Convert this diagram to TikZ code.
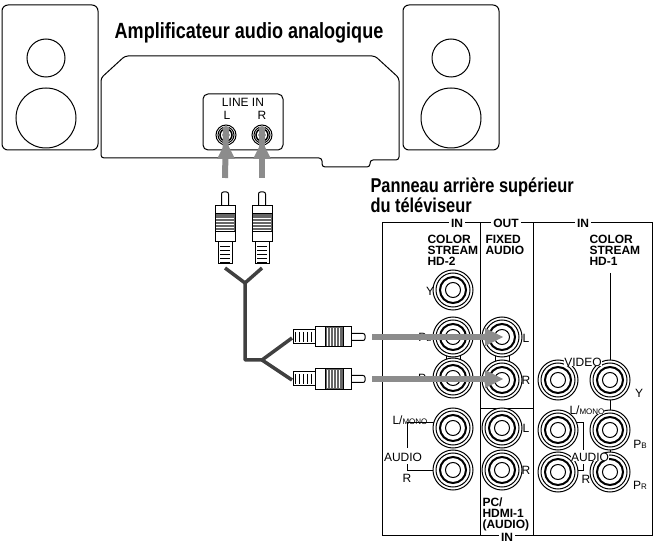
\documentclass[tikz,border=0pt]{standalone}
\usepackage{fontspec}
\setmainfont{Liberation Sans}
\newfontfamily\cond{Liberation Sans}[FakeStretch=0.82]
\begin{document}
\begin{tikzpicture}[x=1pt,y=-1pt,line width=1pt,
  lbl/.style={font=\fontsize{12}{12}\selectfont,inner sep=0pt},
  bl/.style={font=\bfseries\fontsize{12}{11}\selectfont,inner sep=0pt,align=left},
  ttl/.style={font=\cond\bfseries\fontsize{22}{21}\selectfont,inner sep=0pt,align=left},
  gshaft/.style={draw=black!45,line width=6pt},
  ghead/.style={fill=black!45},
  cable/.style={draw=black!75,line width=3.5pt},
  jack/.pic={\draw[line width=1pt,fill=white] (0,0) circle (20);
    \draw (0,0) circle (17); \draw[line width=2pt] (0,0) circle (13);
    \draw (0,0) circle (7.5);},
  sjack/.pic={\draw[fill=white] (0,0) circle (10); \draw (0,0) circle (8);
    \draw[line width=1.5pt] (0,0) circle (6); \draw (0,0) circle (3);},
  plug/.pic={\draw[fill=white,rounded corners=2pt] (-16,-3.5) rectangle (0,3.5);
    \draw[fill=white] (-22,-10) rectangle (-14,10);
    \draw[fill=black!60] (-40,-10) rectangle (-22,10);
    \foreach \i in {-38,-35,...,-24} \draw[white,line width=.5pt] (\i,-9) -- (\i,9);
    \draw[fill=white] (-50,-10) rectangle (-40,10);
    \draw[fill=white] (-72,-7) rectangle (-50,7);
    \foreach \i in {-70,-66,...,-54} \draw[line width=.8pt] (\i,-5) -- (\i,5);}]
\useasboundingbox (0,0) rectangle (654,548);
% speakers
\draw[rounded corners=6pt] (2,5) rectangle (98,150);
\draw (46,58) circle (19); \draw (46,118) circle (30);
\draw[rounded corners=6pt] (403,5) rectangle (499,150);
\draw (451,58) circle (19); \draw (451,118) circle (30);
% amplifier
\node[ttl] (amptitle) at (249,33) {Amplificateur audio analogique};
\draw[rounded corners=3pt] (101,158) -- (101,78) -- (125,56) -- (375,56) -- (399,78) -- (399,160)
  -- (370,160) -- (370,167) -- (322,167) -- (322,158) -- cycle;
\draw[rounded corners=5pt] (203,94) rectangle (283,150);
\node[lbl] (linein) at (243,102) {LINE IN};
\node[lbl] (ll) at (227,115) {L};
\node[lbl] (lr) at (262,115) {R};
\pic at (226,135) {sjack}; \coordinate (jl) at (226,141);
\pic at (262,135) {sjack}; \coordinate (jr) at (262,141);
% cables
\coordinate (y1) at (245,283); \coordinate (y2) at (245,360); \coordinate (y3) at (262,360);
\draw[cable,line join=round] (225,268) -- (y1) -- (262,268);
\draw[cable,line join=round] (y1) -- (y2) -- (y3) -- (292,338);
\draw[cable,line join=round] (y3) -- (292,380);
\pic[rotate=90] at (225,192) {plug};
\pic[rotate=90] at (262,192) {plug};
\pic at (365,337) {plug};
\pic at (365,379) {plug};
\coordinate (pl) at (225,178); \coordinate (pr) at (262,178);
\draw[gshaft] (pl) -- ([yshift=14]jl); \fill[ghead] (jl) -- ++(-9,18) -- ++(18,0) -- cycle;
\draw[gshaft] (pr) -- ([yshift=14]jr); \fill[ghead] (jr) -- ++(-9,18) -- ++(18,0) -- cycle;
% TV title
\node[ttl,anchor=west,font=\cond\bfseries\fontsize{20}{20}\selectfont] (tvtitle) at (370,195) {Panneau arrière supérieur\\du téléviseur};
% TV panel
\draw (382,223) rectangle (652,535);
\draw (480,223) -- (480,535); \draw (533,223) -- (533,535); \draw (480,408) -- (533,408);
\foreach \x/\t in {457/IN,506/OUT,583/IN} \node[bl,fill=white,inner xsep=2pt] at (\x,223) {\t};
\node[bl,fill=white,inner xsep=2pt] (inb) at (507,537) {IN};
\node[bl,anchor=north west] (hd2) at (427,235) {COLOR\\STREAM\\HD-2};
\node[bl,anchor=north west] (fixed) at (485,235) {FIXED\\AUDIO};
\node[bl,anchor=north west] (hd1) at (589,235) {COLOR\\STREAM\\HD-1};
\node[bl,anchor=north west] (pc) at (482,497) {PC/\\HDMI-1\\(AUDIO)};
% brackets
\draw[line width=.7pt] (446,356) -- (446,362) -- (460,362) -- (460,356);
\draw[line width=.7pt] (495,356) -- (495,362) -- (509,362) -- (509,356);
\draw[line width=.7pt] (610,273) -- (610,470);
\draw[line width=.7pt] (440,422) -- (407,422) -- (407,448);
\draw[line width=.7pt] (407,464) -- (407,470) -- (440,470);
\draw[line width=.7pt] (573,422) -- (583,422) -- (583,450);
\draw[line width=.7pt] (583,464) -- (583,470) -- (573,470);
% jacks
\foreach \y in {290,337,378,428,470} \pic at (453,\y) {jack};
\foreach \y in {337,380,428,470} \pic at (502,\y) {jack};
\foreach \x/\y in {558/380,610/380,558/430,610/430,558/472,610/472} \pic at (\x,\y) {jack};
% labels
\node[lbl] at (430,291) {Y};
\node[lbl,fill=white] at (425,337) {P{\fontsize{8}{8}\selectfont B}};
\node[lbl,fill=white] at (425,378) {P{\fontsize{8}{8}\selectfont R}};
\node[lbl] at (410,420) {L/{\fontsize{8}{8}\selectfont MONO}};
\node[lbl,fill=white] at (403,457) {AUDIO};
\node[lbl] at (407,478) {R};
\node[lbl] at (526,338) {L}; \node[lbl] at (526,380) {R};
\node[lbl] at (526,428) {L}; \node[lbl] at (526,470) {R};
\node[lbl,fill=white] at (583,362) {VIDEO};
\node[lbl] at (639,393) {Y};
\node[lbl,fill=white] at (587,410) {L/{\fontsize{8}{8}\selectfont MONO}};
\node[lbl] at (640,444) {P{\fontsize{8}{8}\selectfont B}};
\node[lbl,fill=white] at (590,457) {AUDIO};
\node[lbl] at (586,479) {R};
\node[lbl] at (640,485) {P{\fontsize{8}{8}\selectfont R}};
% arrows to TV
\coordinate (tl) at (503,337); \coordinate (tr) at (503,379);
\draw[gshaft] (372,337) -- ([xshift=-14]tl); \fill[ghead] (tl) -- ++(-18,-9) -- ++(0,18) -- cycle;
\draw[gshaft] (372,379) -- ([xshift=-14]tr); \fill[ghead] (tr) -- ++(-18,-9) -- ++(0,18) -- cycle;
\end{tikzpicture}
\end{document}
